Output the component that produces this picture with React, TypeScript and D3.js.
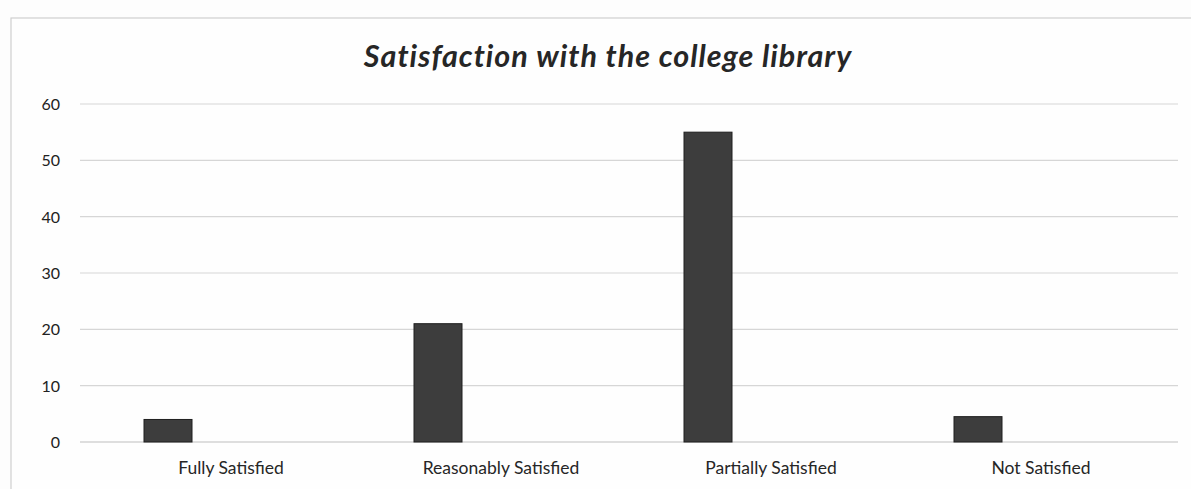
import React from "react";
import * as d3 from "d3";

const categories = ["Fully Satisfied", "Reasonably Satisfied", "Partially Satisfied", "Not Satisfied"];
const values = [4, 21, 55, 4.5];
const yTicks = [0, 10, 20, 30, 40, 50, 60];
const title = "Satisfaction with the college library";

const W = 1191;
const H = 489;

export default function App() {
  const x = d3.scaleBand<string>().domain(categories).range([96, 1176]);
  const y = d3.scaleLinear().domain([0, 60]).range([442, 104]);
  const bw = 48;
  const offset = -63;
  const font = "Lato, 'Open Sans', sans-serif";
  return (
    <svg width={W} height={H} style={{ position: "absolute", left: 0, top: 0, background: "#fdfdfd" }}>
      <rect x={0} y={0} width={W} height={H} fill="#fdfdfd" />
      <rect x={11} y={18} width={W} height={H} fill="#fefefe" stroke="#cfcfcf" strokeWidth={1.2} />
      <text x={608} y={67} textAnchor="middle" fontFamily={font} fontStyle="italic" fontWeight={700} fontSize={30.5} letterSpacing={1} fill="#262626">
        {title}
      </text>
      {yTicks.map((t) => (
        <g key={t}>
          <line x1={80} x2={1178} y1={y(t)} y2={y(t)} stroke={t === 0 ? "#bdbdbd" : "#d6d6d6"} strokeWidth={1.2} />
          <text x={60} y={y(t) + 6} textAnchor="end" fontFamily={font} fontSize={16} fill="#222">
            {t}
          </text>
        </g>
      ))}
      {categories.map((c, i) => {
        const cx = (x(c) as number) + x.bandwidth() / 2;
        return (
          <g key={c}>
            <rect
              x={cx + offset - bw / 2}
              y={y(values[i])}
              width={bw}
              height={y(0) - y(values[i])}
              fill="#3d3d3d"
              stroke="#1e1e1e"
              strokeWidth={1}
            />
            <text x={cx} y={474} textAnchor="middle" fontFamily={font} fontSize={17.5} fill="#262626">
              {c}
            </text>
          </g>
        );
      })}
    </svg>
  );
}
